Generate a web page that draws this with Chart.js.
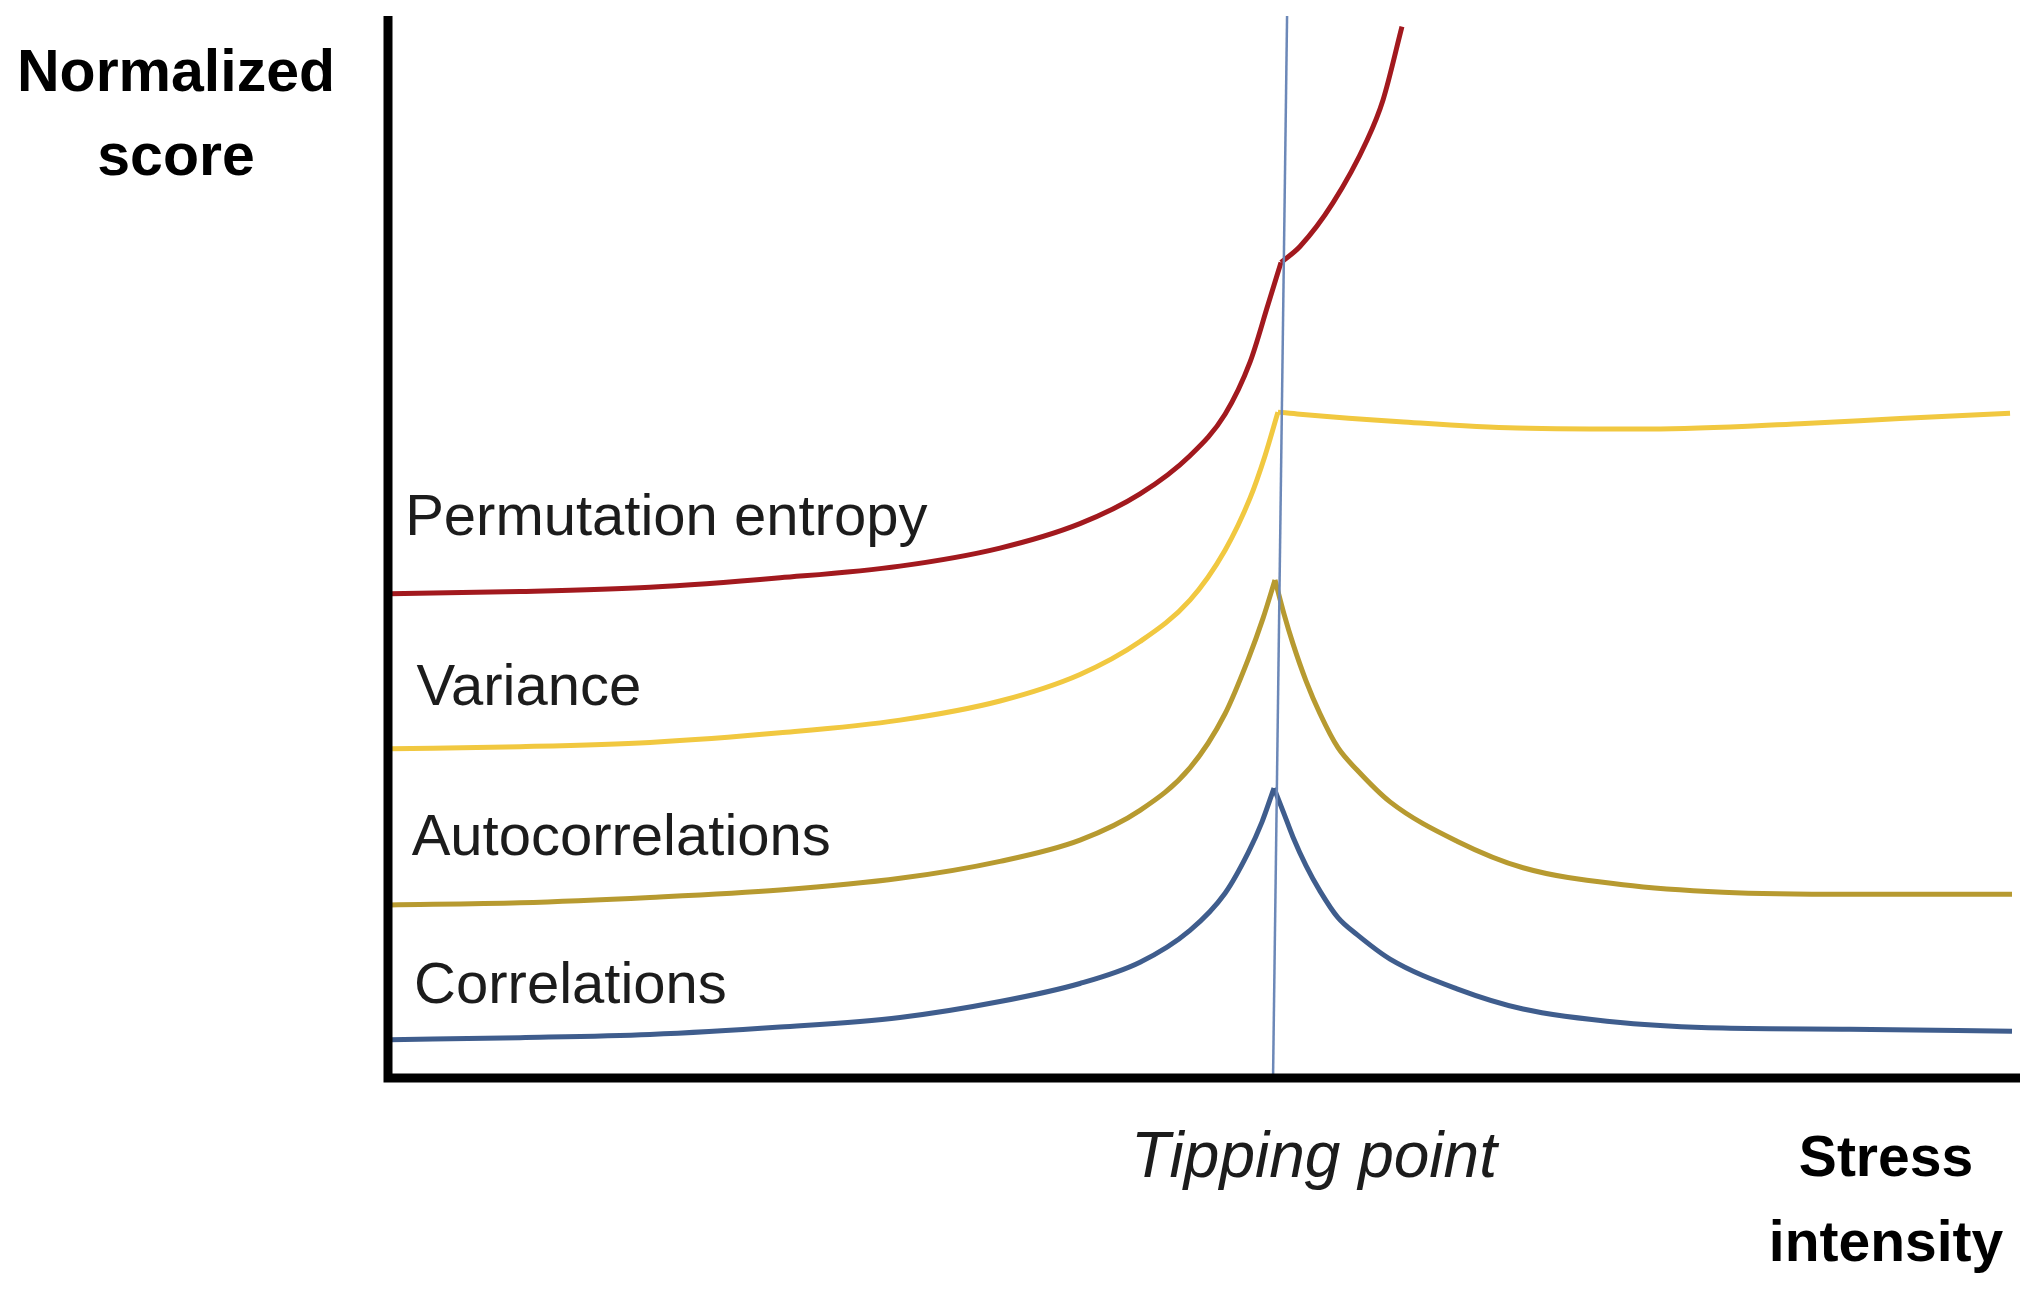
<!DOCTYPE html>
<html>
<head>
  <title>Normalized score vs stress intensity</title>
  <style>
    body {
      margin: 0;
      padding: 0;
      background-color: #fff;
    }
    canvas {
      display: block;
    }
  </style>
</head>
<body>
<canvas id="myChart" width="2037" height="1292"></canvas>

<script src="https://cdn.jsdelivr.net/npm/chart.js"></script>
<script>
  // points as [stress, score], both on a 0-100 scale
  const entropyBelow = [[0.12, 45.6], [8.09, 45.8], [16.05, 46.2], [24.02, 47.1], [31.37, 48.2], [37.5, 49.9],
    [42.4, 52.2], [46.08, 55.0], [49.14, 58.6], [51.29, 62.5], [52.82, 67.4], [53.92, 72.8], [54.72, 76.8]];
  const entropyAbove = [[54.72, 76.8], [55.88, 78.3], [57.9, 82.4], [59.99, 88.3], [60.97, 92.1], [62.13, 99.0]];

  const varianceRise = [[0.12, 31.0], [8.09, 31.2], [16.05, 31.6], [24.02, 32.5], [31.37, 33.7], [37.5, 35.5],
    [42.4, 38.0], [46.08, 41.1], [49.14, 45.0], [51.29, 49.7], [52.82, 54.6], [53.74, 58.6], [54.53, 62.7]];
  const varianceAfter = [[54.53, 62.7], [55.88, 62.5], [62.01, 61.8], [69.18, 61.2], [77.33, 61.1], [86.52, 61.6],
    [92.65, 62.1], [99.39, 62.6]];

  const autocorrRise = [[0.12, 16.3], [8.09, 16.5], [16.05, 17.0], [24.02, 17.7], [31.37, 18.8], [37.5, 20.4],
    [42.4, 22.4], [46.08, 25.2], [49.14, 29.2], [51.29, 34.3], [52.7, 39.4], [53.62, 43.3], [54.35, 46.9]];
  const autocorrFall = [[54.35, 46.9], [54.9, 43.7], [55.45, 40.9], [56.25, 37.4], [57.11, 34.3], [58.21, 31.1],
    [59.38, 29.0], [61.4, 26.0], [65.5, 22.3], [69.55, 19.8], [75.67, 18.2], [81.8, 17.5], [89.58, 17.3], [99.51, 17.3]];

  const corrRise = [[0.12, 3.6], [8.09, 3.8], [16.05, 4.1], [24.02, 4.8], [31.37, 5.7], [37.5, 7.2],
    [42.4, 8.9], [46.08, 10.9], [49.14, 13.9], [51.29, 17.4], [52.7, 21.2], [53.55, 24.1], [54.29, 27.3]];
  const corrFall = [[54.29, 27.3], [54.9, 24.9], [55.45, 22.7], [56.25, 20.0], [57.11, 17.6], [58.21, 15.1],
    [59.38, 13.5], [61.4, 11.2], [65.5, 8.4], [69.55, 6.5], [75.67, 5.2], [81.8, 4.7], [89.58, 4.6], [99.51, 4.4]];

  // the tipping point line leans slightly
  const tippingLine = [[54.23, 0], [55.09, 100]];

  const seriesNames = ['Permutation entropy', 'Variance', 'Autocorrelations', 'Correlations'];
  const seriesParts = [[entropyBelow, entropyAbove], [varianceRise, varianceAfter],
    [autocorrRise, autocorrFall], [corrRise, corrFall]];
  const seriesColors = ['#a2191e', '#f1c840', '#b79a30', '#3f5d8d'];

  function toPoints(pairs) {
    return pairs.map(p => ({ x: p[0], y: p[1] }));
  }

  const datasets = [{
    data: toPoints(tippingLine),
    borderColor: '#6c88b8',
    borderWidth: 2.5,
    pointRadius: 0,
    tension: 0
  }];

  seriesParts.forEach((parts, i) => {
    parts.forEach(part => {
      datasets.push({
        label: seriesNames[i],
        data: toPoints(part),
        borderColor: seriesColors[i],
        borderWidth: 5,
        pointRadius: 0,
        cubicInterpolationMode: 'monotone'
      });
    });
  });

  // axes, curve names and axis titles
  const decorations = {
    id: 'decorations',
    afterDatasetsDraw(chart) {
      const { ctx, chartArea: a, scales: { x, y } } = chart;
      ctx.save();

      ctx.strokeStyle = '#000';
      ctx.lineWidth = 9;
      ctx.lineJoin = 'miter';
      ctx.beginPath();
      ctx.moveTo(a.left, a.top);
      ctx.lineTo(a.left, a.bottom);
      ctx.lineTo(a.right, a.bottom);
      ctx.stroke();

      ctx.fillStyle = '#1c1c1c';
      ctx.textAlign = 'left';
      ctx.textBaseline = 'alphabetic';
      ctx.font = '58px "Liberation Sans", Arial, sans-serif';
      const nameAt = [[1.05, 51.1], [1.75, 35.1], [1.45, 21.0], [1.6, 7.1]];
      seriesNames.forEach((name, i) => {
        ctx.fillText(name, x.getPixelForValue(nameAt[i][0]), y.getPixelForValue(nameAt[i][1]));
      });

      ctx.fillStyle = '#000';
      ctx.textAlign = 'center';
      ctx.font = 'bold 59px "Liberation Sans", Arial, sans-serif';
      ctx.fillText('Normalized', a.left - 212, a.top + 75);
      ctx.fillText('score', a.left - 212, a.top + 159);

      ctx.font = 'bold 57px "Liberation Sans", Arial, sans-serif';
      ctx.fillText('Stress', a.right - 134, a.bottom + 98);
      ctx.fillText('intensity', a.right - 134, a.bottom + 183);

      ctx.fillStyle = '#1c1c1c';
      ctx.textAlign = 'left';
      ctx.font = 'italic 64px "Liberation Sans", Arial, sans-serif';
      ctx.fillText('Tipping point', x.getPixelForValue(54.23) - 142, a.bottom + 99);

      ctx.restore();
    }
  };

  const ctx = document.getElementById('myChart').getContext('2d');
  const myChart = new Chart(ctx, {
    type: 'scatter',
    data: { datasets: datasets },
    options: {
      responsive: false,
      animation: false,
      devicePixelRatio: 1,
      showLine: true,
      clip: false,
      layout: {
        padding: { left: 388, right: 17, top: 16, bottom: 214 }
      },
      scales: {
        x: { type: 'linear', min: 0, max: 100, display: false },
        y: { type: 'linear', min: 0, max: 100, display: false }
      },
      plugins: {
        legend: { display: false },
        tooltip: { enabled: false }
      }
    },
    plugins: [decorations]
  });
</script>
</body>
</html>
